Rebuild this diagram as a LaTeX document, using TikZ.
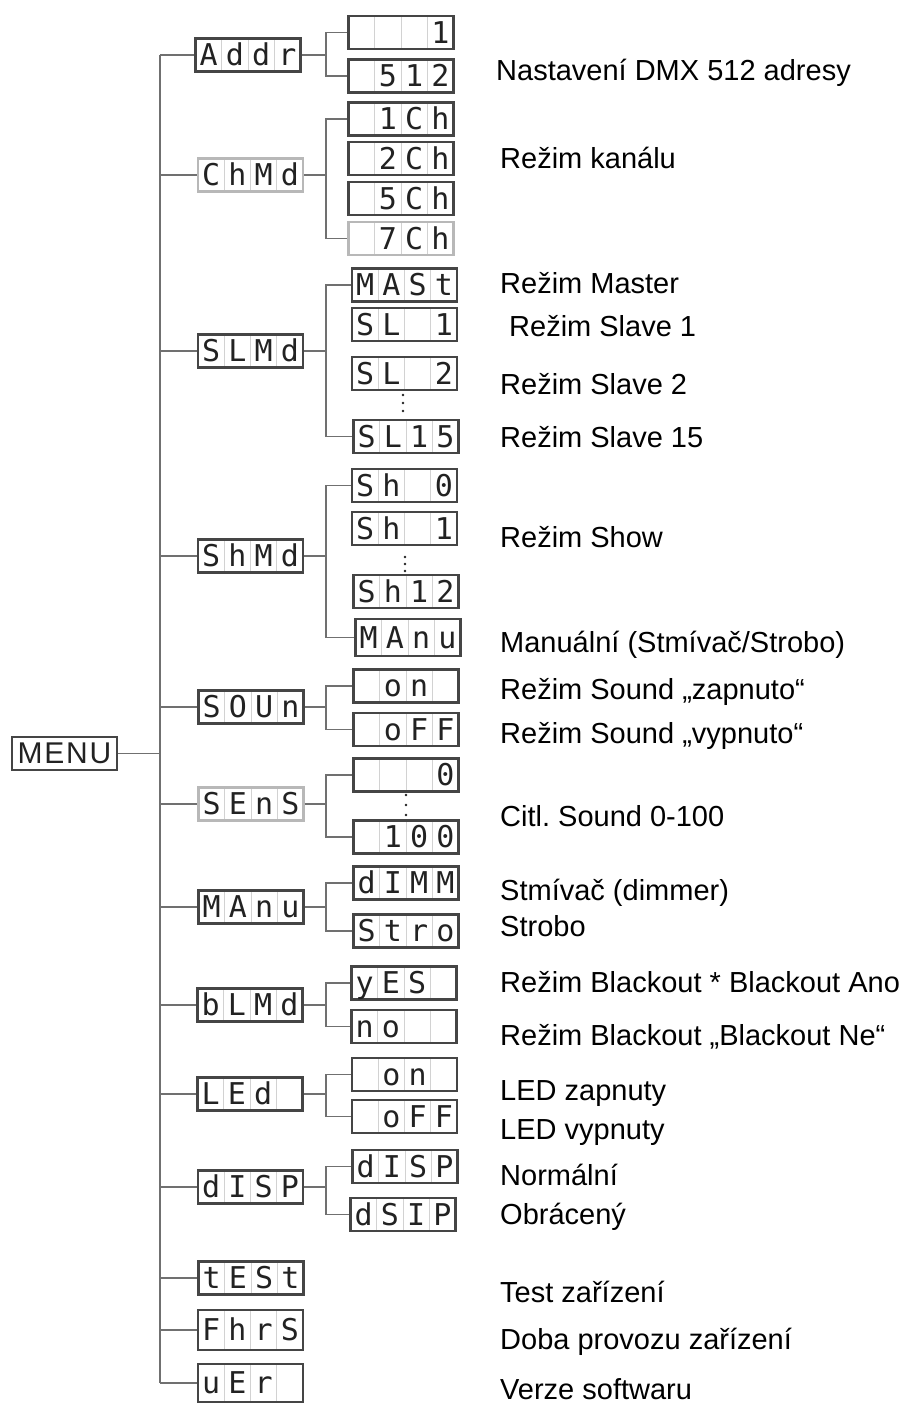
\documentclass[tikz,border=0pt]{standalone}
\usepackage{fontspec}
\setmainfont{Liberation Sans}
\newfontfamily\segfont{DejaVu Sans Mono}
\newfontfamily\menufont[LetterSpace=6]{Liberation Sans}
\usetikzlibrary{calc}

% quattro celle del display
\newcommand{\seg}[4]{\vphantom{0}\makebox[26.25pt]{\smash{#1}}\makebox[26.25pt]{\smash{#2}}\makebox[26.25pt]{\smash{#3}}\makebox[26.25pt]{\smash{#4}}}

\begin{document}
\begin{tikzpicture}[x=1pt,y=-1pt,
  link/.style={draw=lineGray, line width=1.8pt},
  disp/.style={draw=boxGray, line width=2.1pt, minimum width=105pt, minimum height=33pt,
    inner sep=0pt, text=segInk, font=\segfont\fontsize{30}{30}\selectfont,
    path picture={\foreach \k in {1,2,3}{\draw[cellGray, line width=0.9pt]
      ($(path picture bounding box.north west)!\k/4!(path picture bounding box.north east)$) --
      ($(path picture bounding box.south west)!\k/4!(path picture bounding box.south east)$);}}},
  faint/.style={draw=faintGray},
  menubox/.style={draw=boxGray, line width=2.1pt, minimum width=105pt, minimum height=33pt,
    inner sep=0pt, text=segInk, font=\menufont\fontsize{30}{30}\selectfont},
  lab/.style={anchor=base west, inner sep=0pt, font=\fontsize{29}{29}\selectfont}]

% Colori
\definecolor{lineGray}{HTML}{707070}
\definecolor{boxGray}{HTML}{454545}
\definecolor{faintGray}{HTML}{B8B8B8}
\definecolor{cellGray}{HTML}{D2D2D2}
\definecolor{segInk}{HTML}{222222}

\useasboundingbox (0,0) rectangle (905,1403);

% Colonne
\coordinate (trunk) at (160,0);
\coordinate (fork) at (326,0);

% MENU
\node[menubox] (menu) at (64.5,753.5) {MENU};

% Voci del menu
\node[disp] (addr) at (248,55) {\seg{A}{d}{d}{r}};
\node[disp,faint] (chmd) at (250.5,175) {\seg{C}{h}{M}{d}};
\node[disp] (slmd) at (250.5,351) {\seg{S}{L}{M}{d}};
\node[disp] (shmd) at (250.5,556) {\seg{S}{h}{M}{d}};
\node[disp] (soun) at (251,707) {\seg{S}{O}{U}{n}};
\node[disp,faint] (sens) at (251,804) {\seg{S}{E}{n}{S}};
\node[disp] (manu) at (251,907) {\seg{M}{A}{n}{u}};
\node[disp] (blmd) at (250,1005) {\seg{b}{L}{M}{d}};
\node[disp] (led) at (250,1094) {\seg{L}{E}{d}{}};
\node[disp] (dsp) at (250.5,1187) {\seg{d}{I}{S}{P}};
\node[disp] (test) at (251,1278) {\seg{t}{E}{S}{t}};
\node[disp,minimum height=40pt] (fhrs) at (250.5,1330) {\seg{F}{h}{r}{S}};
\node[disp,minimum height=38pt] (ver) at (250.5,1383) {\seg{u}{E}{r}{}};

% Sottovoci
\node[disp] (addrA) at (401,32.5) {\seg{}{}{}{1}};
\node[disp] (addrB) at (401,76) {\seg{}{5}{1}{2}};

\node[disp] (chA) at (401,119) {\seg{}{1}{C}{h}};
\node[disp] (chB) at (401,158.5) {\seg{}{2}{C}{h}};
\node[disp] (chC) at (401,198.5) {\seg{}{5}{C}{h}};
\node[disp,faint] (chD) at (401,238.5) {\seg{}{7}{C}{h}};

\node[disp] (slA) at (404.5,285) {\seg{M}{A}{S}{t}};
\node[disp] (slB) at (404.5,324.5) {\seg{S}{L}{}{1}};
\node[disp] (slC) at (404.5,373.5) {\seg{S}{L}{}{2}};
\node[disp] (slD) at (406,436.5) {\seg{S}{L}{1}{5}};

\node[disp] (shA) at (404.5,485.5) {\seg{S}{h}{}{0}};
\node[disp] (shB) at (404.5,528.5) {\seg{S}{h}{}{1}};
\node[disp] (shC) at (406,591.5) {\seg{S}{h}{1}{2}};
\node[disp,minimum height=37pt] (shD) at (408,637.5) {\seg{M}{A}{n}{u}};

\node[disp] (sonA) at (406,686) {\seg{}{o}{n}{}};
\node[disp] (sonB) at (406,729.5) {\seg{}{o}{F}{F}};

\node[disp] (senA) at (406,775) {\seg{}{}{}{0}};
\node[disp] (senB) at (406,837) {\seg{}{1}{0}{0}};

\node[disp] (manA) at (406,883) {\seg{d}{I}{M}{M}};
\node[disp] (manB) at (406,931) {\seg{S}{t}{r}{o}};

\node[disp] (blA) at (404,983) {\seg{y}{E}{S}{}};
\node[disp] (blB) at (404,1026.5) {\seg{n}{o}{}{}};

\node[disp] (ledA) at (404.5,1074.5) {\seg{}{o}{n}{}};
\node[disp] (ledB) at (404.5,1116.5) {\seg{}{o}{F}{F}};

\node[disp] (dspA) at (405,1166.5) {\seg{d}{I}{S}{P}};
\node[disp] (dspB) at (403,1214.5) {\seg{d}{S}{I}{P}};

% Puntini
\foreach \d in {0,1,2} \fill[segInk] (403,395+\d*8) circle (1.4);
\foreach \d in {0,1,2} \fill[segInk] (405,557+\d*7) circle (1.4);
\foreach \d in {0,1,2} \fill[segInk] (406,795+\d*10) circle (1.4);

% Tronco
\draw[link] (menu.east) -- (menu.east -| trunk);
\draw[link] (addr.west -| trunk) -- (ver.west -| trunk);
\draw[link] (addr.west -| trunk) -- (addr.west);
\draw[link] (chmd.west -| trunk) -- (chmd.west);
\draw[link] (slmd.west -| trunk) -- (slmd.west);
\draw[link] (shmd.west -| trunk) -- (shmd.west);
\draw[link] (soun.west -| trunk) -- (soun.west);
\draw[link] (sens.west -| trunk) -- (sens.west);
\draw[link] (manu.west -| trunk) -- (manu.west);
\draw[link] (blmd.west -| trunk) -- (blmd.west);
\draw[link] (led.west -| trunk) -- (led.west);
\draw[link] (dsp.west -| trunk) -- (dsp.west);
\draw[link] (test.west -| trunk) -- (test.west);
\draw[link] (fhrs.west -| trunk) -- (fhrs.west);
\draw[link] (ver.west -| trunk) -- (ver.west);

% Forche
\draw[link] (addr.east) -- (addr.east -| fork);
\draw[link] (addrA.west) -- (addrA.west -| fork) -- (addrB.west -| fork) -- (addrB.west);
\draw[link] (chmd.east) -- (chmd.east -| fork);
\draw[link] (chA.west) -- (chA.west -| fork) -- (chD.west -| fork) -- (chD.west);
\draw[link] (slmd.east) -- (slmd.east -| fork);
\draw[link] (slA.west) -- (slA.west -| fork) -- (slD.west -| fork) -- (slD.west);
\draw[link] (shmd.east) -- (shmd.east -| fork);
\draw[link] (shA.west) -- (shA.west -| fork) -- (shD.west -| fork) -- (shD.west);
\draw[link] (soun.east) -- (soun.east -| fork);
\draw[link] (sonA.west) -- (sonA.west -| fork) -- (sonB.west -| fork) -- (sonB.west);
\draw[link] (sens.east) -- (sens.east -| fork);
\draw[link] (senA.west) -- (senA.west -| fork) -- (senB.west -| fork) -- (senB.west);
\draw[link] (manu.east) -- (manu.east -| fork);
\draw[link] (manA.west) -- (manA.west -| fork) -- (manB.west -| fork) -- (manB.west);
\draw[link] (blmd.east) -- (blmd.east -| fork);
\draw[link] (blA.west) -- (blA.west -| fork) -- (blB.west -| fork) -- (blB.west);
\draw[link] (led.east) -- (led.east -| fork);
\draw[link] (ledA.west) -- (ledA.west -| fork) -- (ledB.west -| fork) -- (ledB.west);
\draw[link] (dsp.east) -- (dsp.east -| fork);
\draw[link] (dspA.west) -- (dspA.west -| fork) -- (dspB.west -| fork) -- (dspB.west);

% Descrizioni
\node[lab] (tAddr) at (496,80) {Nastavení DMX 512 adresy};
\node[lab] (tCh) at (500,168) {Režim kanálu};
\node[lab] (tMast) at (500,293) {Režim Master};
\node[lab] (tSl1) at (509,336) {Režim Slave 1};
\node[lab] (tSl2) at (500,394) {Režim Slave 2};
\node[lab] (tSl15) at (500,447) {Režim Slave 15};
\node[lab] (tShow) at (500,547) {Režim Show};
\node[lab] (tManu) at (500,652) {Manuální (Stmívač/Strobo)};
\node[lab] (tOn) at (500,699) {Režim Sound „zapnuto“};
\node[lab] (tOff) at (500,743) {Režim Sound „vypnuto“};
\node[lab] (tSens) at (500,826) {Citl.\ Sound 0-100};
\node[lab] (tDim) at (500,900) {Stmívač (dimmer)};
\node[lab] (tStro) at (500,936) {Strobo};
\node[lab] (tBlY) at (500,992) {Režim Blackout * Blackout Ano};
\node[lab] (tBlN) at (500,1045) {Režim Blackout „Blackout Ne“};
\node[lab] (tLedA) at (500,1100) {LED zapnuty};
\node[lab] (tLedB) at (500,1139) {LED vypnuty};
\node[lab] (tNorm) at (500,1185) {Normální};
\node[lab] (tObr) at (500,1224) {Obrácený};
\node[lab] (tTest) at (500,1302) {Test zařízení};
\node[lab] (tDoba) at (500,1349) {Doba provozu zařízení};
\node[lab] (tVer) at (500,1399) {Verze softwaru};

\end{tikzpicture}
\end{document}
